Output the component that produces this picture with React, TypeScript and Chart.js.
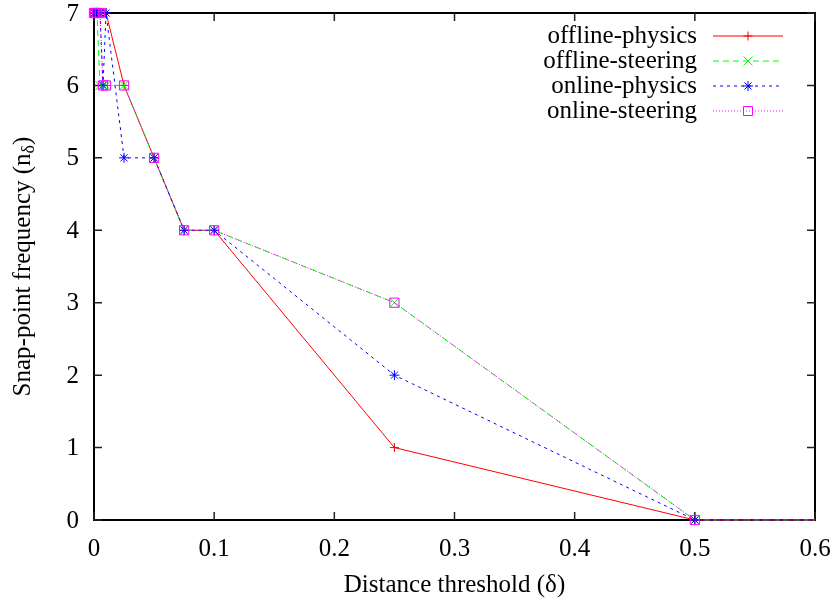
import React, { useEffect, useRef } from "react";
import { Chart, registerables } from "chart.js";

Chart.register(...registerables);

const thresholds = [0, 0.001, 0.0025, 0.005, 0.0075, 0.01, 0.025, 0.05, 0.075, 0.1, 0.25, 0.5, 1.0];
const offlinePhysics = [7, 7, 7, 7, 7, 7, 6, 5, 4, 4, 1, 0, 0];
const offlineSteering = [7, 7, 7, 6, 6, 6, 6, 5, 4, 4, 3, 0, 0];
const onlinePhysics = [7, 7, 7, 7, 6, 7, 5, 5, 4, 4, 2, 0, 0];
const onlineSteering = [7, 7, 7, 7, 6, 6, 6, 5, 4, 4, 3, 0, 0];
const seriesNames = ["offline-physics", "offline-steering", "online-physics", "online-steering"];
const xTicks = [0, 0.1, 0.2, 0.3, 0.4, 0.5, 0.6];
const xTickLabels = ["0", "0.1", "0.2", "0.3", "0.4", "0.5", "0.6"];
const yTicks = [0, 1, 2, 3, 4, 5, 6, 7];
const yTickLabels = ["0", "1", "2", "3", "4", "5", "6", "7"];

const FONT = "'Liberation Serif', 'DejaVu Serif', serif";
const FS = 25;

const styles = [
  { color: "#ff0000", dash: [] as number[], point: "cross", r: 4.5 },
  { color: "#00ff00", dash: [6, 4], point: "crossRot", r: 6.5 },
  { color: "#0000ff", dash: [3, 4], point: "star", r: 5 },
  { color: "#ff00ff", dash: [1, 2], point: "rect", r: 6.5 },
];

function drawMarker(ctx: CanvasRenderingContext2D, kind: string, x: number, y: number) {
  ctx.beginPath();
  if (kind === "cross") {
    ctx.moveTo(x - 4.5, y); ctx.lineTo(x + 4.5, y);
    ctx.moveTo(x, y - 4.5); ctx.lineTo(x, y + 4.5);
  } else if (kind === "crossRot") {
    ctx.moveTo(x - 4.5, y - 4.5); ctx.lineTo(x + 4.5, y + 4.5);
    ctx.moveTo(x - 4.5, y + 4.5); ctx.lineTo(x + 4.5, y - 4.5);
  } else if (kind === "star") {
    ctx.moveTo(x - 5, y); ctx.lineTo(x + 5, y);
    ctx.moveTo(x, y - 5); ctx.lineTo(x, y + 5);
    ctx.moveTo(x - 3.5, y - 3.5); ctx.lineTo(x + 3.5, y + 3.5);
    ctx.moveTo(x - 3.5, y + 3.5); ctx.lineTo(x + 3.5, y - 3.5);
  } else {
    ctx.rect(x - 4.5, y - 4.5, 9, 9);
  }
  ctx.stroke();
}

const framePlugin = {
  id: "gnuFrame",
  beforeDatasetsDraw(chart: any) {
    const { ctx, chartArea } = chart;
    const { left, right, top, bottom } = chartArea;
    const xs = chart.scales.x;
    const ys = chart.scales.y;
    ctx.save();
    ctx.strokeStyle = "#000";
    ctx.lineWidth = 2;
    ctx.setLineDash([]);
    ctx.strokeRect(left, top, right - left, bottom - top);
    ctx.lineWidth = 1.5;
    ctx.strokeStyle = "#222";
    const tl = 8;
    ctx.beginPath();
    xTicks.forEach((v) => {
      const px = xs.getPixelForValue(v);
      ctx.moveTo(px, bottom); ctx.lineTo(px, bottom - tl);
      ctx.moveTo(px, top); ctx.lineTo(px, top + tl);
    });
    yTicks.forEach((v) => {
      const py = ys.getPixelForValue(v);
      ctx.moveTo(left, py); ctx.lineTo(left + tl, py);
      ctx.moveTo(right, py); ctx.lineTo(right - tl, py);
    });
    ctx.stroke();
    // tick labels
    ctx.fillStyle = "#000";
    ctx.font = `${FS}px ${FONT}`;
    ctx.textBaseline = "middle";
    ctx.textAlign = "right";
    yTicks.forEach((v, i) => {
      ctx.fillText(yTickLabels[i], left - 15, ys.getPixelForValue(v) + 1);
    });
    ctx.textAlign = "center";
    xTicks.forEach((v, i) => {
      ctx.fillText(xTickLabels[i], xs.getPixelForValue(v), bottom + 29);
    });
    ctx.restore();
  },
  afterDraw(chart: any) {
    const { ctx, chartArea } = chart;
    ctx.save();
    ctx.fillStyle = "#000";
    // x title
    ctx.font = `${FS}px ${FONT}`;
    ctx.textAlign = "center";
    ctx.textBaseline = "middle";
    ctx.fillText("Distance threshold (δ)", (chartArea.left + chartArea.right) / 2, 585);
    // y title with subscript
    ctx.save();
    ctx.translate(23, (chartArea.top + chartArea.bottom) / 2);
    ctx.rotate(-Math.PI / 2);
    const main = "Snap-point frequency (n";
    ctx.font = `${FS}px ${FONT}`;
    const w1 = ctx.measureText(main).width;
    ctx.font = `18px ${FONT}`;
    const w2 = ctx.measureText("δ").width;
    ctx.font = `${FS}px ${FONT}`;
    const w3 = ctx.measureText(")").width;
    const total = w1 + w2 + w3;
    let x0 = -total / 2;
    ctx.textAlign = "left";
    ctx.fillText(main, x0, 0);
    x0 += w1;
    ctx.font = `18px ${FONT}`;
    ctx.fillText("δ", x0, 6);
    x0 += w2;
    ctx.font = `${FS}px ${FONT}`;
    ctx.fillText(")", x0, 0);
    ctx.restore();
    // legend
    const rows = [36, 61, 86, 111];
    ctx.font = `${FS}px ${FONT}`;
    ctx.textAlign = "right";
    ctx.textBaseline = "middle";
    seriesNames.forEach((name, i) => {
      const y = rows[i];
      ctx.fillStyle = "#000";
      ctx.fillText(name, 697, y);
      const st = styles[i];
      ctx.strokeStyle = st.color;
      ctx.lineWidth = 1;
      ctx.setLineDash(st.dash);
      ctx.beginPath();
      ctx.moveTo(713, y);
      ctx.lineTo(783, y);
      ctx.stroke();
      ctx.setLineDash([]);
      drawMarker(ctx, st.point, 748, y);
    });
    ctx.restore();
  },
};

export default function App() {
  const ref = useRef<HTMLCanvasElement>(null);
  useEffect(() => {
    document.body.style.margin = "0";
    const canvas = ref.current!;
    const allSeries = [offlinePhysics, offlineSteering, onlinePhysics, onlineSteering];
    const datasets = allSeries.map((vals, i) => ({
      label: seriesNames[i],
      data: thresholds.map((x, j) => ({ x, y: vals[j] })),
      borderColor: styles[i].color,
      backgroundColor: "transparent",
      borderWidth: 1,
      borderDash: styles[i].dash,
      pointStyle: styles[i].point as any,
      pointRadius: styles[i].r,
      pointBorderColor: styles[i].color,
      pointBackgroundColor: "transparent",
      pointBorderWidth: 1,
      tension: 0,
      fill: false,
      order: 4 - i,
      clip: { left: 10, top: 10, right: 0, bottom: 10 },
    }));
    const chart = new Chart(canvas, {
      type: "line",
      data: { datasets },
      options: {
        animation: false,
        responsive: false,
        maintainAspectRatio: false,
        layout: { padding: { left: 0, right: 25, top: 13, bottom: 0 } },
        plugins: { legend: { display: false }, tooltip: { enabled: false } },
        scales: {
          x: {
            type: "linear",
            min: 0,
            max: 0.6,
            afterBuildTicks: (s: any) => { s.ticks = xTicks.map((v) => ({ value: v })); },
            afterFit: (s: any) => { s.height = 87; },
            grid: { display: false, drawTicks: false },
            border: { display: false },
            ticks: { display: false },
          },
          y: {
            type: "linear",
            min: 0,
            max: 7,
            afterBuildTicks: (s: any) => { s.ticks = yTicks.map((v) => ({ value: v })); },
            afterFit: (s: any) => { s.width = 94; },
            grid: { display: false, drawTicks: false },
            border: { display: false },
            ticks: { display: false },
          },
        },
      },
      plugins: [framePlugin],
    });
    return () => chart.destroy();
  }, []);
  return <canvas ref={ref} width={840} height={607} style={{ display: "block" }} />;
}
